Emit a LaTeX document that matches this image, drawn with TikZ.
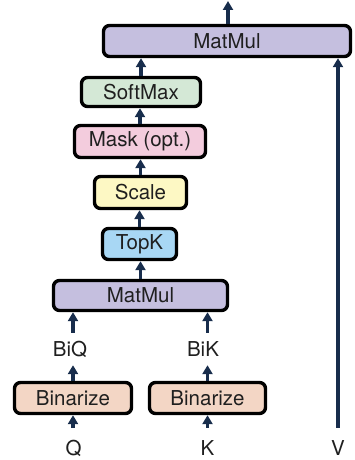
\documentclass[tikz,border=0pt]{standalone}
\usepackage{fontspec}
\setmainfont{TeX Gyre Heros}
\usetikzlibrary{arrows.meta}
\definecolor{arrc}{RGB}{24,45,76}
\definecolor{cmat}{RGB}{197,191,223}
\definecolor{csoft}{RGB}{212,232,214}
\definecolor{cmask}{RGB}{243,204,221}
\definecolor{cscale}{RGB}{253,248,196}
\definecolor{ctopk}{RGB}{168,215,244}
\definecolor{cbin}{RGB}{243,214,197}
\begin{document}
\begin{tikzpicture}[x=1pt,y=-1pt,
  box/.style={draw=black,line width=3.4pt,rounded corners=6pt,inner sep=0pt,
    font=\fontsize{20.5}{24}\selectfont,text=black!88},
  lbl/.style={inner sep=0pt,font=\fontsize{20.5}{24}\selectfont,text=black!88},
  arr/.style={draw=arrc,line width=3.2pt,-{Triangle[width=10pt,length=9pt]}}]
\useasboundingbox (0,0) rectangle (354,460);
\node[box,fill=cmat,minimum width=247pt,minimum height=31pt] (mm2) at (227,41) {MatMul};
\node[box,fill=csoft,minimum width=119pt,minimum height=29pt] (soft) at (141,92) {SoftMax};
\node[box,fill=cmask,minimum width=131pt,minimum height=32pt] (mask) at (140,141.5) {Mask (opt.)};
\node[box,fill=cscale,minimum width=92pt,minimum height=32pt] (scale) at (140.5,192.5) {Scale};
\node[box,fill=ctopk,minimum width=74pt,minimum height=31pt] (topk) at (139.5,244) {TopK};
\node[box,fill=cmat,minimum width=174pt,minimum height=30pt] (mm1) at (140.5,295.5) {MatMul};
\node[box,fill=cbin,minimum width=117pt,minimum height=31pt] (binq) at (73,398) {Binarize};
\node[box,fill=cbin,minimum width=116pt,minimum height=31pt] (bink) at (207.5,398) {Binarize};
\node[lbl,minimum height=32pt] (biq) at (70,349) {BiQ};
\node[lbl,minimum height=32pt] (bik) at (203,349) {BiK};
\node[lbl,minimum height=40pt] (q) at (73.5,448) {Q};
\node[lbl,minimum height=40pt] (k) at (207.5,448) {K};
\node[lbl,minimum height=40pt] (v) at (338,448) {V};
\coordinate (out) at (228,1);
\draw[arr] (mm2.north -| out) -- (out);
\draw[arr] (soft.north) -- (soft.north |- mm2.south);
\draw[arr] (mask.north) -- (mask.north |- soft.south);
\draw[arr] (scale.north) -- (scale.north |- mask.south);
\draw[arr] (topk.north) -- (topk.north |- scale.south);
\draw[arr] (mm1.north) -- (mm1.north |- topk.south);
\draw[arr] (binq.north |- biq.north) -- (binq.north |- mm1.south);
\draw[arr] (bink.north |- bik.north) -- (bink.north |- mm1.south);
\draw[arr] (binq.north) -- (binq.north |- biq.south);
\draw[arr] (bink.north) -- (bink.north |- bik.south);
\draw[arr] (binq.south |- q.north) -- (binq.south);
\draw[arr] (bink.south |- k.north) -- (bink.south);
\draw[arr] (v.north) -- (v.north |- mm2.south);
\end{tikzpicture}
\end{document}
